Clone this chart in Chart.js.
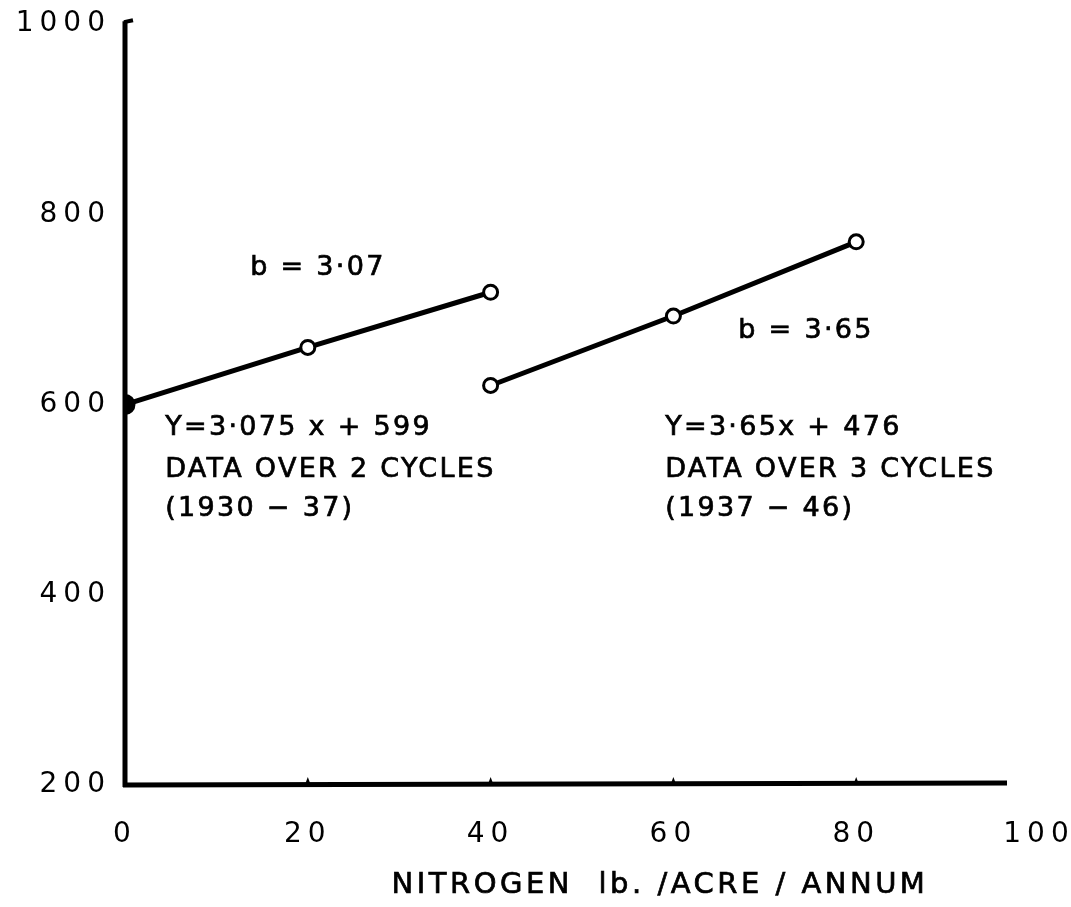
<!DOCTYPE html>
<html><head><meta charset="utf-8">
<script src="https://cdn.jsdelivr.net/npm/chart.js@4/dist/chart.umd.min.js"></script>
<style>html,body{margin:0;padding:0;background:#fff}#wrap{width:1071px;height:907px;position:relative}</style>
</head><body><div id="wrap"><canvas id="c"></canvas></div>
<script>
// ---- data ----
const xTicks = [0, 20, 40, 60, 80, 100];
const yTicks = [200, 400, 600, 800, 1000];
const nitrogenA = [0, 20, 40];
const yieldA = [600, 660, 718];
const nitrogenB = [40, 60, 80];
const yieldB = [620, 693, 771];
const xTitle = 'NITROGEN  lb. /ACRE / ANNUM';
const notesText = [
  'b = 3·07', 'b = 3·65',
  'Y=3·075 x + 599', 'DATA OVER 2 CYCLES', '(1930 − 37)',
  'Y=3·65x + 476', 'DATA OVER 3 CYCLES', '(1937 − 46)'
];
// ---- note anchors (data coords) ----
const noteAnchors = [
  [13.7, 744], [67.1, 677],
  [4.4, 575], [4.4, 531], [4.4, 490],
  [59.1, 575], [59.1, 531], [59.1, 490]
];
const FONT = '"DejaVu Sans", sans-serif';

const decor = {
  id: 'decor',
  beforeDraw(chart) { chart.ctx.letterSpacing = '6px'; },
  beforeDatasetsDraw(chart) {
    const ctx = chart.ctx, x = chart.scales.x, y = chart.scales.y;
    ctx.save();
    ctx.letterSpacing = '0px';
    ctx.strokeStyle = '#000'; ctx.fillStyle = '#000';
    ctx.lineWidth = 5; ctx.lineCap = 'butt';
    const x0 = x.getPixelForValue(0), yb = y.getPixelForValue(200);
    ctx.beginPath(); ctx.moveTo(x0, yb + 2); ctx.lineTo(x0, y.getPixelForValue(1003)); ctx.stroke();
    ctx.lineWidth = 4;
    ctx.beginPath(); ctx.moveTo(x0 - 1, y.getPixelForValue(1002)); ctx.lineTo(x0 + 8, y.getPixelForValue(1004)); ctx.stroke();
    ctx.lineWidth = 5;
    ctx.beginPath(); ctx.moveTo(x0 - 2, yb); ctx.lineTo(x.getPixelForValue(96.5), yb - 2); ctx.stroke();
    [20, 40, 60, 80].forEach(v => {
      const px = x.getPixelForValue(v);
      ctx.beginPath(); ctx.moveTo(px - 3, yb); ctx.lineTo(px, yb - 8); ctx.lineTo(px + 3, yb); ctx.closePath(); ctx.fill();
    });
    ctx.restore();
  },
  afterDraw(chart) {
    const ctx = chart.ctx, x = chart.scales.x, y = chart.scales.y;
    ctx.save();
    ctx.fillStyle = '#000'; ctx.strokeStyle = '#000'; ctx.lineWidth = 0.7;
    ctx.textBaseline = 'middle';
    ctx.textAlign = 'left';
    ctx.letterSpacing = '2.3px';
    ctx.font = '27px ' + FONT;
    notesText.forEach((t, i) => {
      const a = noteAnchors[i];
      const px = x.getPixelForValue(a[0]), py = y.getPixelForValue(a[1]);
      ctx.fillText(t, px, py); ctx.strokeText(t, px, py);
    });
    ctx.font = '29px ' + FONT;
    ctx.letterSpacing = '3.5px';
    ctx.textAlign = 'center';
    ctx.fillText(xTitle, 660, 885); ctx.strokeText(xTitle, 660, 885);
    ctx.restore();
  }
};

const ptRadiusA = nitrogenA.map((v, i) => i === 0 ? 9 : 7);
const ptFillA = nitrogenA.map((v, i) => i === 0 ? '#000' : '#fff');

new Chart(document.getElementById('c'), {
  type: 'scatter',
  data: {
    datasets: [
      { data: nitrogenA.map((v, i) => ({ x: v, y: yieldA[i] })), showLine: true,
        borderColor: '#000', borderWidth: 5, pointRadius: ptRadiusA, pointBorderWidth: 3,
        pointBackgroundColor: ptFillA, pointBorderColor: '#000' },
      { data: nitrogenB.map((v, i) => ({ x: v, y: yieldB[i] })), showLine: true,
        borderColor: '#000', borderWidth: 5, pointRadius: 7, pointBorderWidth: 3,
        pointBackgroundColor: '#fff', pointBorderColor: '#000' }
    ]
  },
  options: {
    responsive: true, maintainAspectRatio: false, animation: false,
    layout: { padding: { top: 24, right: 32, left: 0, bottom: 0 } },
    plugins: { legend: { display: false }, tooltip: { enabled: false } },
    scales: {
      x: {
        type: 'linear', min: 0, max: 100,
        afterBuildTicks: s => { s.ticks = xTicks.map(v => ({ value: v })); },
        afterFit: s => { s.height = 122; s.paddingLeft = 0; s.paddingRight = 0; },
        grid: { display: false, drawTicks: false },
        border: { display: false },
        ticks: { color: '#000', padding: 33, font: { family: FONT, size: 28 }, callback: v => String(v) }
      },
      y: {
        type: 'linear', min: 200, max: 1000,
        afterBuildTicks: s => { s.ticks = yTicks.map(v => ({ value: v })); },
        afterFit: s => { s.width = 125; s.paddingTop = 0; s.paddingBottom = 0; },
        grid: { display: false, drawTicks: false },
        border: { display: false },
        ticks: { color: '#000', padding: 14, font: { family: FONT, size: 28 }, callback: v => String(v) }
      }
    }
  },
  plugins: [decor]
});
</script>
</body></html>
